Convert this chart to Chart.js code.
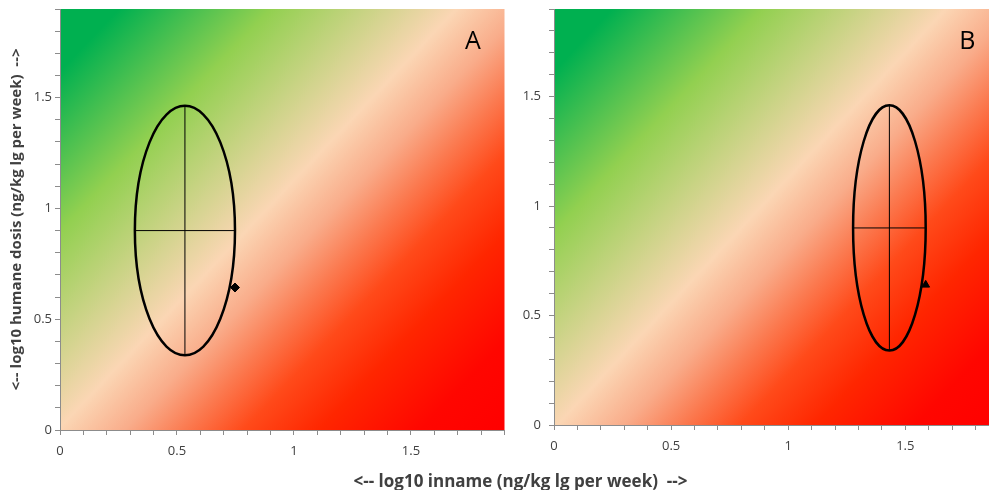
<!DOCTYPE html>
<html>
<head>
<meta charset="utf-8">
<script src="https://cdn.jsdelivr.net/npm/chart.js@4/dist/chart.umd.min.js"></script>
<style>
  body { margin: 0; background: #fff; width: 989px; height: 490px; overflow: hidden; position: relative; font-family: "Open Sans", sans-serif; }
  #grafiekA { position: absolute; left: 0; top: 0; }
  #grafiekB { position: absolute; left: 510px; top: 0; }
  #xtitel { position: absolute; left: 0; top: 469px; width: 1041px; text-align: center; font-weight: bold; font-size: 17px; line-height: 23px; color: #404040; white-space: pre; }
</style>
</head>
<body>
<canvas id="grafiekA" width="510" height="470"></canvas>
<canvas id="grafiekB" width="495" height="465"></canvas>
<div id="xtitel">&lt;-- log10 inname (ng/kg lg per week)  --&gt;</div>
<script>
// tick labels en kleine streepjes (elke 0.1)
const tickLabels = [0, 0.5, 1, 1.5];
const kleineTicks = [0, 0.1, 0.2, 0.3, 0.4, 0.5, 0.6, 0.7, 0.8, 0.9, 1, 1.1, 1.2, 1.3, 1.4, 1.5, 1.6, 1.7, 1.8, 1.9];
const panelen = ["A", "B"];
// ellips: middelpunt en halve assen (log10 eenheden)
const ellipsMidX = [0.534, 1.432];
const ellipsMidY = [0.9, 0.9];
const ellipsHalfX = [0.214, 0.155];
const ellipsHalfY = [0.563, 0.56];
// losse punten naast de ellips
const puntX = [0.748, 1.587];
const puntY = [0.643, 0.64];
const puntVorm = ["rectRot", "triangle"];

const tekstKleur = "#404040";
const asKleur = "#8c8c8c";

// achtergrond verloop groen -> perzik -> rood
const achtergrondPlugin = {
  id: "achtergrond",
  beforeDraw(chart) {
    const { ctx, chartArea: a } = chart;
    const g = ctx.createLinearGradient(a.left, a.top, a.right, a.bottom);
    g.addColorStop(0, "#00b050");
    g.addColorStop(0.07, "#00b050");
    g.addColorStop(0.25, "#92d050");
    g.addColorStop(0.47, "#fbd6b4");
    g.addColorStop(0.55, "#f9ac8a");
    g.addColorStop(0.62, "#fb7a50");
    g.addColorStop(0.69, "#ff4a1a");
    g.addColorStop(0.78, "#ff2600");
    g.addColorStop(0.9, "#ff0600");
    g.addColorStop(1, "#ff0000");
    ctx.save();
    ctx.fillStyle = g;
    ctx.fillRect(a.left, a.top, a.right - a.left, a.bottom - a.top);
    ctx.restore();
  }
};

// ellips en paneel letter tekenen via de schalen
const ellipsPlugin = {
  id: "ellips",
  afterDatasetsDraw(chart) {
    const i = chart.options.paneel;
    const x = chart.scales.x, y = chart.scales.y;
    const ctx = chart.ctx;
    const cx = x.getPixelForValue(ellipsMidX[i]);
    const cy = y.getPixelForValue(ellipsMidY[i]);
    const rx = x.getPixelForValue(ellipsMidX[i] + ellipsHalfX[i]) - cx;
    const ry = cy - y.getPixelForValue(ellipsMidY[i] + ellipsHalfY[i]);
    ctx.save();
    ctx.beginPath();
    ctx.ellipse(cx, cy, rx, ry, 0, 0, Math.PI * 2);
    ctx.lineWidth = 2.5;
    ctx.strokeStyle = "#000";
    ctx.stroke();
    ctx.font = '25px "Open Sans"';
    ctx.fillStyle = "#000";
    ctx.textAlign = "center";
    ctx.textBaseline = "middle";
    ctx.fillText(panelen[i], x.getPixelForValue(1.765), y.getPixelForValue(1.75));
    ctx.restore();
  }
};

function maakSchaal(as, maat, titel, pad) {
  return {
    type: "linear",
    min: 0,
    max: 1.9,
    afterBuildTicks: (s) => { s.ticks = kleineTicks.map((v) => ({ value: v })); },
    afterFit: (s) => {
      if (as === "x") s.height = maat; else s.width = maat;
      // geen extra ruimte voor labels aan de uiteinden, alleen layout padding telt
      s.paddingTop = 0; s.paddingBottom = 0; s.paddingLeft = 0; s.paddingRight = 0;
    },
    grid: { drawOnChartArea: false, tickLength: 5, color: asKleur },
    border: { color: asKleur },
    ticks: {
      autoSkip: false,
      maxRotation: 0,
      padding: pad,
      color: tekstKleur,
      font: { family: "Open Sans", size: 13 },
      callback: (v) => (tickLabels.includes(v) ? String(v) : "")
    },
    title: titel
      ? { display: true, text: titel, color: tekstKleur, font: { family: "Open Sans", size: 15, weight: "bold" }, padding: 0 }
      : { display: false }
  };
}

function maakGrafiek(id, i, links, yBreedte, yPad, boven, rechts) {
  const datasets = [
    {
      data: [{ x: ellipsMidX[i] - ellipsHalfX[i], y: ellipsMidY[i] }, { x: ellipsMidX[i] + ellipsHalfX[i], y: ellipsMidY[i] }],
      showLine: true, borderColor: "#000", borderWidth: 1, pointRadius: 0
    },
    {
      data: [{ x: ellipsMidX[i], y: ellipsMidY[i] - ellipsHalfY[i] }, { x: ellipsMidX[i], y: ellipsMidY[i] + ellipsHalfY[i] }],
      showLine: true, borderColor: "#000", borderWidth: 1, pointRadius: 0
    },
    {
      data: [{ x: puntX[i], y: puntY[i] }],
      pointStyle: puntVorm[i], pointRadius: 4.5, backgroundColor: "#000", borderColor: "#000"
    }
  ];
  return new Chart(document.getElementById(id), {
    type: "scatter",
    data: { datasets },
    plugins: [achtergrondPlugin, ellipsPlugin],
    options: {
      paneel: i,
      responsive: false,
      animation: false,
      layout: { padding: { top: boven, right: rechts, left: links, bottom: 0 } },
      plugins: { legend: { display: false }, tooltip: { enabled: false } },
      scales: {
        x: maakSchaal("x", 40, null, 8),
        y: maakSchaal("y", yBreedte, i === 0 ? "<-- log10 humane dosis (ng/kg lg per week)  -->" : null, yPad)
      }
    }
  });
}

maakGrafiek("grafiekA", 0, 8, 52, 3, 9, 5);
maakGrafiek("grafiekB", 1, 0, 44, 8, 9, 6);
</script>
</body>
</html>
